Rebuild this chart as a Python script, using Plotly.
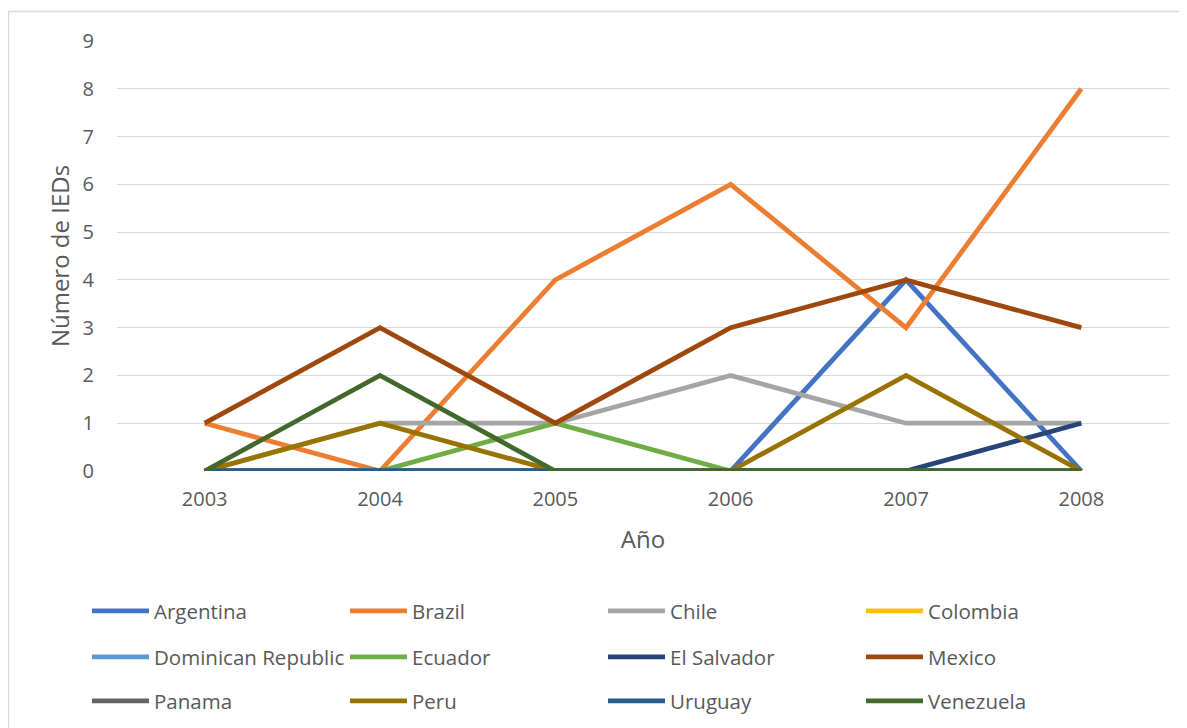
import plotly.graph_objects as go

years = ["2003", "2004", "2005", "2006", "2007", "2008"]

argentina = [0, 0, 0, 0, 4, 0]
brazil = [1, 0, 4, 6, 3, 8]
chile = [0, 1, 1, 2, 1, 1]
colombia = [0, 0, 0, 0, 0, 0]
dominican_republic = [0, 0, 0, 0, 0, 0]
ecuador = [0, 0, 1, 0, 0, 0]
el_salvador = [0, 0, 0, 0, 0, 1]
mexico = [1, 3, 1, 3, 4, 3]
panama = [0, 0, 0, 0, 0, 0]
peru = [0, 1, 0, 0, 2, 0]
uruguay = [0, 0, 0, 0, 0, 0]
venezuela = [0, 2, 0, 0, 0, 0]

y_ticks = list(range(0, 10))

series = [
    ("Argentina", argentina, "#4472C4", "legend"),
    ("Brazil", brazil, "#ED7D31", "legend"),
    ("Chile", chile, "#A5A5A5", "legend"),
    ("Colombia", colombia, "#FFC000", "legend"),
    ("Dominican Republic", dominican_republic, "#5B9BD5", "legend2"),
    ("Ecuador", ecuador, "#70AD47", "legend2"),
    ("El Salvador", el_salvador, "#264478", "legend2"),
    ("Mexico", mexico, "#9E480E", "legend2"),
    ("Panama", panama, "#636363", "legend3"),
    ("Peru", peru, "#997300", "legend3"),
    ("Uruguay", uruguay, "#255E91", "legend3"),
    ("Venezuela", venezuela, "#43682B", "legend3"),
]

fig = go.Figure()
for name, vals, color, lg in series:
    fig.add_trace(go.Scatter(
        x=years, y=vals, name=name, mode="lines",
        line=dict(color=color, width=4.8),
        legend=lg,
    ))

FONT = "Open Sans"
TXT = "#595959"

OFF = 8  # page body margin
W, H = 1187 - OFF, 728 - OFF
L, T = 117 - OFF, 41 - OFF
R = W - (1169 - OFF)
B = H - (471 - OFF)
pw, ph = W - L - R, H - T - B

def px_x(sx):
    return (sx - OFF - L) / pw

def px_y(sy):
    return (H - B - (sy - OFF)) / ph

def cx(sx):
    return (sx - OFF) / W

def cy(sy):
    return 1 - (sy - OFF) / H

legend_common = dict(
    orientation="h", xref="container", yref="container",
    x=cx(87), xanchor="left", yanchor="middle",
    entrywidth=186, entrywidthmode="pixels",
    font=dict(family=FONT, size=20.5, color=TXT),
    bgcolor="rgba(0,0,0,0)", itemwidth=57, traceorder="normal",
)

fig.update_layout(
    width=W, height=H,
    margin=dict(l=L, r=R, t=T, b=B),
    paper_bgcolor="white", plot_bgcolor="white",
    font=dict(family=FONT, size=20, color=TXT),
    showlegend=True,
    legend=dict(y=cy(611), **legend_common),
    legend2=dict(y=cy(657), **legend_common),
    legend3=dict(y=cy(701), **legend_common),
    xaxis=dict(
        type="category", range=[-0.5, 5.5],
        showgrid=False, zeroline=False, showline=False,
        ticks="", ticklabelstandoff=14,
        tickfont=dict(family=FONT, size=20, color=TXT),
        title=dict(text="Año", font=dict(family=FONT, size=24, color=TXT), standoff=20),
    ),
    yaxis=dict(
        range=[0, 9], tickvals=y_ticks,
        showgrid=True, gridcolor="#D9D9D9", gridwidth=1.3,
        zeroline=False, showline=False, ticks="",
        ticklabelstandoff=22,
        tickfont=dict(family=FONT, size=20, color=TXT),
        title=dict(text="Número de IEDs", font=dict(family=FONT, size=24, color=TXT), standoff=6),
    ),
    shapes=[dict(
        type="rect", xref="paper", yref="paper",
        x0=px_x(8.5), x1=px_x(1200), y0=px_y(740), y1=px_y(11.5),
        line=dict(color="#D9D9D9", width=1.5), fillcolor="rgba(0,0,0,0)", layer="below",
    )],
)

fig.write_html("out.html")
